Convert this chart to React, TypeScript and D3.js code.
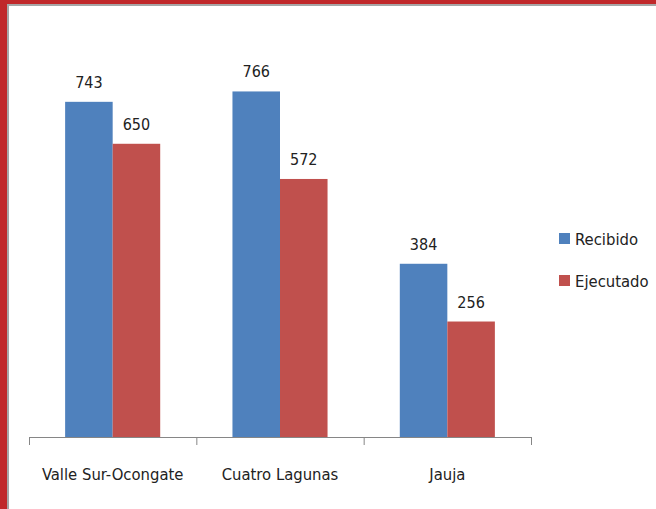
import React, { useRef, useEffect } from "react";
import * as d3 from "d3";

const categories = ["Valle Sur-Ocongate", "Cuatro Lagunas", "Jauja"];
const seriesNames = ["Recibido", "Ejecutado"];
const recibido = [743, 766, 384];
const ejecutado = [650, 572, 256];
const colors = ["#4F81BD", "#C0504D"];

const width = 656;
const height = 509;
const font = "'DejaVu Sans Condensed', sans-serif";

const App: React.FC = () => {
  const svgRef = useRef<SVGSVGElement>(null);

  useEffect(() => {
    if (!svgRef.current) return;
    const svg = d3.select(svgRef.current);
    svg.selectAll("*").remove();

    // frame
    svg.append("rect").attr("width", width).attr("height", height).attr("fill", "#ffffff");
    svg.append("rect").attr("x", 0).attr("y", 0).attr("width", width).attr("height", 6).attr("fill", "#A6A6A6");
    svg.append("rect").attr("x", 0).attr("y", 0).attr("width", 9).attr("height", height).attr("fill", "#A6A6A6");
    svg.append("rect").attr("x", 0).attr("y", 0).attr("width", width).attr("height", 4).attr("fill", "#C0282A");
    svg.append("rect").attr("x", 0).attr("y", 0).attr("width", 7).attr("height", height).attr("fill", "#C0282A");

    const margin = { left: 29, right: 125, top: 31, bottom: 72 };
    const baseline = height - margin.bottom;

    const x0 = d3
      .scaleBand()
      .domain(categories)
      .range([margin.left, width - margin.right])
      .paddingInner(0)
      .paddingOuter(0);

    const x1 = d3
      .scaleBand()
      .domain(seriesNames)
      .range([0, x0.bandwidth()])
      .paddingInner(0)
      .paddingOuter(0.76);

    const y = d3.scaleLinear().domain([0, 900]).range([baseline, margin.top]);

    const series = [recibido, ejecutado];

    categories.forEach((cat, i) => {
      const g = svg.append("g").attr("transform", `translate(${x0(cat)},0)`);
      seriesNames.forEach((s, j) => {
        const v = series[j][i];
        g.append("rect")
          .attr("x", x1(s)!)
          .attr("y", y(v))
          .attr("width", x1.bandwidth())
          .attr("height", baseline - y(v))
          .attr("fill", colors[j]);
        g.append("text")
          .attr("x", x1(s)! + x1.bandwidth() / 2)
          .attr("y", y(v) - 14)
          .attr("text-anchor", "middle")
          .attr("font-family", font)
          .attr("font-size", 16)
          .attr("fill", "#222")
          .text(v);
      });
    });

    // x axis
    const axis = svg
      .append("g")
      .attr("transform", `translate(0,${baseline})`)
      .call(d3.axisBottom(x0).tickSize(0).tickPadding(31));
    axis.select(".domain").attr("stroke", "#868686");
    axis.selectAll("text").attr("font-family", font).attr("font-size", 16.5).attr("fill", "#222");
    const edges = [margin.left, ...categories.map((c) => x0(c)! + x0.bandwidth())];
    axis
      .selectAll(".edge")
      .data(edges)
      .enter()
      .append("line")
      .attr("x1", (d) => d + 0.5)
      .attr("x2", (d) => d + 0.5)
      .attr("y1", 0)
      .attr("y2", 8)
      .attr("stroke", "#868686");

    // legend
    const legend = svg.append("g").attr("transform", "translate(559,233)");
    seriesNames.forEach((s, j) => {
      legend
        .append("rect")
        .attr("x", 0)
        .attr("y", j * 42)
        .attr("width", 11)
        .attr("height", 11)
        .attr("fill", colors[j]);
      legend
        .append("text")
        .attr("x", 16)
        .attr("y", j * 42 + 12)
        .attr("font-family", font)
        .attr("font-size", 16.5)
        .attr("fill", "#222")
        .text(s);
    });
  }, []);

  return (
    <svg
      ref={svgRef}
      width={width}
      height={height}
      style={{ position: "absolute", left: 0, top: 0 }}
    ></svg>
  );
};

export default App;
